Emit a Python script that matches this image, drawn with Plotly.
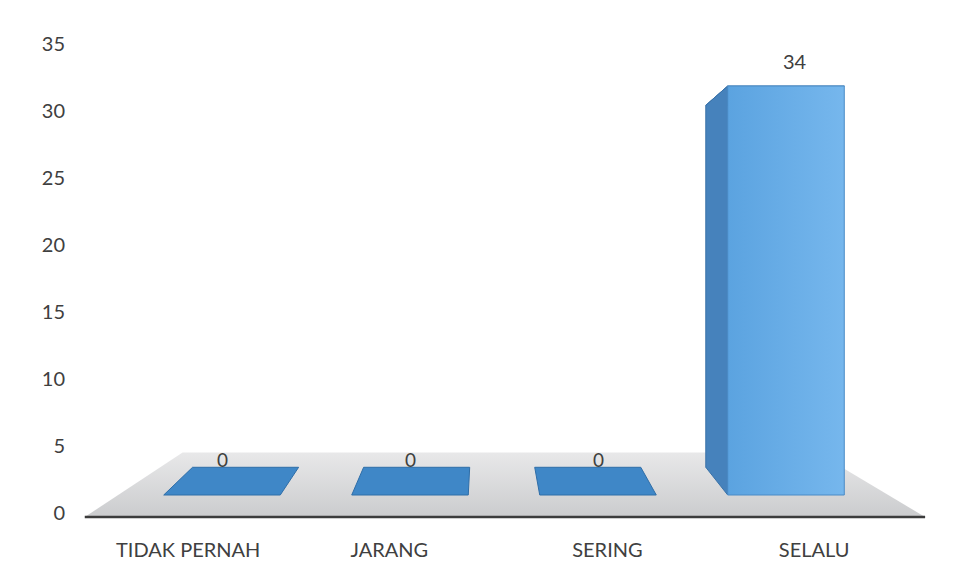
import plotly.graph_objects as go

# ---- data ----
categories = ["TIDAK PERNAH", "JARANG", "SERING", "SELALU"]
values = [0, 0, 0, 34]
y_ticks = [0, 5, 10, 15, 20, 25, 30, 35]

# ---- 3D-look parameters (in axis data units) ----
VPX, VPY = 1.394, 20.03      # vanishing point
KX, KY = 0.09, 0.115         # bar depth
KF = 0.245                   # floor depth
HW = 0.31                    # half bar width
FLOOR_XL, FLOOR_XR, FLOOR_Y = -0.73, 3.74, -1.83
LABEL_X = [-0.18, 0.89, 2.05, 3.15]   # category label positions on the floor front

FONT = "Lato, 'Open Sans', sans-serif"


def back(x, y, kx=KX, ky=KY):
    return x + kx * (VPX - x), y + ky * (VPY - y)


def poly(pts, fill, line="rgba(0,0,0,0)", lw=0, grad=None):
    xs = [p[0] for p in pts] + [pts[0][0]]
    ys = [p[1] for p in pts] + [pts[0][1]]
    kw = dict(x=xs, y=ys, mode="lines", fill="toself", fillcolor=fill,
              line=dict(color=line, width=lw), hoverinfo="skip",
              showlegend=False, xaxis="x", yaxis="y2")
    if grad:
        kw["fillgradient"] = grad
    return go.Scatter(**kw)


fig = go.Figure()

# invisible carrier so the value axis (y) gets drawn
fig.add_trace(go.Scatter(x=[LABEL_X[0]] * len(y_ticks), y=y_ticks, mode="markers",
                         marker=dict(opacity=0), hoverinfo="skip", showlegend=False,
                         xaxis="x", yaxis="y"))

# floor
fl = (FLOOR_XL, FLOOR_Y)
fr = (FLOOR_XR, FLOOR_Y)
fig.add_trace(poly([fl, fr, back(*fr, KF, KF), back(*fl, KF, KF)], "#d9dadc",
                   grad=dict(type="vertical",
                             colorscale=[[0, "#cbccce"], [1, "#e8e8e9"]])))
fig.add_trace(go.Scatter(x=[FLOOR_XL, FLOOR_XR], y=[FLOOR_Y, FLOOR_Y], mode="lines",
                         line=dict(color="#3c3c3c", width=2.5), hoverinfo="skip",
                         showlegend=False, xaxis="x", yaxis="y2"))

# bars
for i, v in enumerate(values):
    p_fl, p_fr = (i - HW, 0), (i + HW, 0)
    p_tl, p_tr = (i - HW, v), (i + HW, v)
    # top face
    fig.add_trace(poly([p_tl, p_tr, back(*p_tr), back(*p_tl)], "#3f87c7",
                       line="#2f6ea8", lw=1))
    if v > 0:
        # side face
        if i > VPX:
            side = [p_fl, p_tl, back(*p_tl), back(*p_fl)]
        else:
            side = [p_fr, p_tr, back(*p_tr), back(*p_fr)]
        fig.add_trace(poly(side, "#4682bc", line="#3a72a8", lw=1))
        # front face
        fig.add_trace(poly([p_fl, p_fr, p_tr, p_tl], "#66abe6", line="#4a8bc6", lw=1,
                           grad=dict(type="horizontal",
                                     colorscale=[[0, "#5ba3e0"], [1, "#76b7ed"]])))

# value labels
for i, v in enumerate(values):
    fig.add_annotation(x=i, y=v, xref="x", yref="y2", text=str(v), showarrow=False,
                       yanchor="bottom", yshift=11 if v > 0 else 22,
                       xshift=9 if v > 0 else 0,
                       font=dict(family=FONT, size=20 if v > 0 else 19,
                                 color="#3f3f3f"))

# axis ranges: y (labels) 0 -> 513px, 35 -> 44px; y2 (bars) 0 -> 495px, 34 -> 86px
plot_top, plot_bot = 44, 526
y_px_per = (513 - 44) / 35
y_range = [-(plot_bot - 513) / y_px_per, 35]
y2_px_per = (495 - 86) / 34
y2_range = [-(plot_bot - 495) / y2_px_per, 34 + (86 - plot_top) / y2_px_per]
L, R = 70, 20
x_range = [(L - 222) / 188, (959 - R - 222) / 188]

fig.update_layout(
    width=959, height=585,
    margin=dict(l=L, r=R, t=plot_top, b=585 - plot_bot),
    paper_bgcolor="white", plot_bgcolor="rgba(0,0,0,0)",
    showlegend=False,
    xaxis=dict(range=x_range, showgrid=False, zeroline=False, showline=False,
               tickmode="array", tickvals=LABEL_X, ticktext=categories,
               ticks="outside", ticklen=6, tickcolor="rgba(0,0,0,0)",
               tickfont=dict(family=FONT, size=20, color="#404040")),
    yaxis=dict(range=y_range, showgrid=False, zeroline=False, showline=False,
               tickmode="array", tickvals=y_ticks, ticks="", ticklabelstandoff=4,
               tickfont=dict(family=FONT, size=20, color="#404040")),
    yaxis2=dict(range=y2_range, overlaying="y", visible=False, showgrid=False,
                zeroline=False),
)

fig.write_html("out.html")
